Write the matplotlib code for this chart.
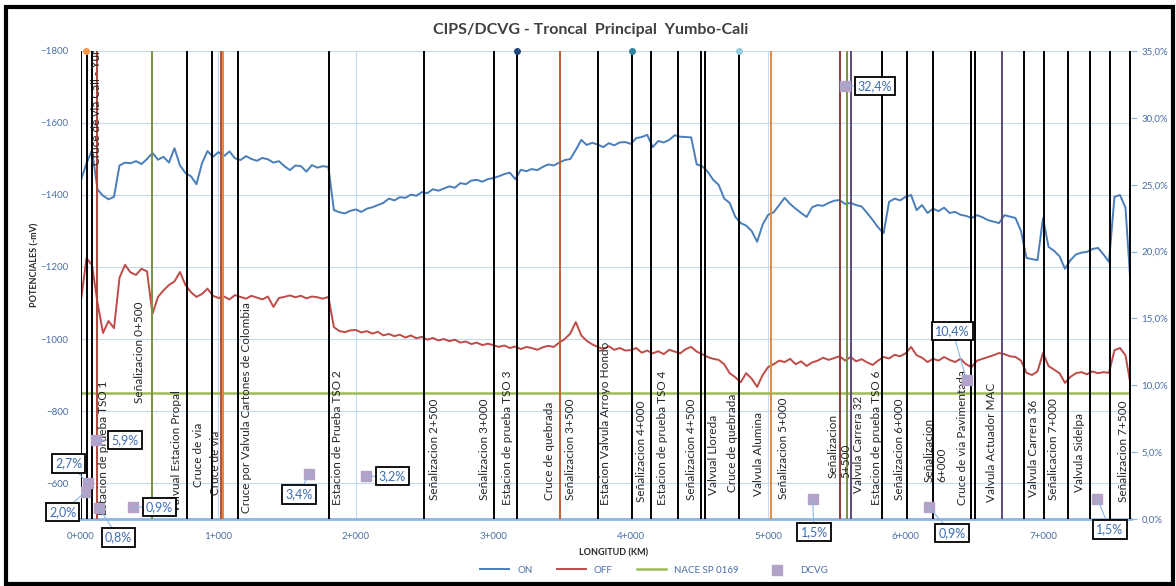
import matplotlib
matplotlib.use('Agg')
import matplotlib.pyplot as plt
import numpy as np
from matplotlib.patches import Rectangle

plt.rcParams['font.family'] = ['Lato', 'DejaVu Sans']

# lecturas CIPS cada 40 m (mV)
paso = 40
on = [-1442, -1488, -1525, -1415, -1398, -1388, -1395, -1482, -1490, -1488,
      -1494, -1486, -1500, -1517, -1498, -1506, -1490, -1530, -1482, -1461,
      -1452, -1430, -1488, -1522, -1506, -1519, -1508, -1521, -1502, -1497,
      -1508, -1500, -1495, -1503, -1499, -1490, -1494, -1480, -1469, -1482,
      -1480, -1465, -1483, -1476, -1480, -1478, -1358, -1352, -1349, -1356,
      -1360, -1353, -1362, -1366, -1372, -1378, -1390, -1385, -1394, -1392,
      -1401, -1398, -1408, -1405, -1416, -1412, -1418, -1424, -1420, -1433,
      -1430, -1440, -1442, -1437, -1444, -1447, -1452, -1458, -1462, -1444,
      -1470, -1466, -1472, -1469, -1478, -1485, -1482, -1490, -1497, -1500,
      -1525, -1553, -1539, -1545, -1540, -1533, -1544, -1538, -1546, -1547,
      -1542, -1558, -1561, -1567, -1533, -1550, -1546, -1553, -1566, -1562,
      -1561, -1560, -1485, -1480, -1465, -1442, -1428, -1390, -1378, -1340,
      -1322, -1315, -1300, -1270, -1318, -1345, -1352, -1372, -1392, -1375,
      -1362, -1350, -1339, -1366, -1372, -1370, -1378, -1384, -1386, -1375,
      -1378, -1372, -1368, -1350, -1331, -1310, -1294, -1381, -1390, -1385,
      -1395, -1400, -1358, -1372, -1350, -1362, -1355, -1365, -1350, -1353,
      -1345, -1342, -1336, -1344, -1338, -1330, -1326, -1322, -1344, -1340,
      -1336, -1300, -1225, -1222, -1219, -1336, -1256, -1245, -1230, -1195,
      -1219, -1235, -1240, -1242, -1250, -1253, -1235, -1214, -1395, -1400,
      -1365, -1136]
off = [-1108, -1225, -1205, -1100, -1017, -1050, -1030, -1170, -1206, -1185,
       -1178, -1195, -1188, -1070, -1117, -1135, -1150, -1160, -1186, -1150,
       -1130, -1117, -1125, -1140, -1120, -1114, -1118, -1110, -1122, -1117,
       -1112, -1120, -1115, -1110, -1118, -1089, -1114, -1117, -1121, -1116,
       -1120, -1113, -1118, -1116, -1112, -1117, -1033, -1022, -1019, -1024,
       -1025, -1018, -1022, -1015, -1020, -1010, -1014, -1008, -1012, -1004,
       -1010, -1002, -1006, -998, -1003, -996, -1000, -994, -998, -990,
       -993, -986, -990, -983, -987, -983, -978, -982, -975, -979,
       -972, -978, -975, -970, -977, -981, -978, -990, -1000, -1015,
       -1047, -1010, -995, -985, -978, -972, -980, -970, -975, -968,
       -969, -975, -962, -968, -960, -966, -958, -970, -965, -960,
       -972, -978, -965, -958, -950, -945, -942, -930, -905, -894,
       -880, -905, -890, -867, -900, -922, -930, -940, -936, -945,
       -930, -938, -925, -935, -940, -948, -942, -947, -952, -940,
       -950, -938, -944, -935, -928, -940, -950, -946, -956, -952,
       -960, -978, -955, -948, -936, -945, -940, -950, -942, -936,
       -945, -930, -922, -940, -945, -950, -955, -961, -958, -952,
       -950, -940, -906, -900, -910, -961, -925, -915, -905, -878,
       -895, -905, -908, -902, -910, -905, -908, -906, -969, -975,
       -955, -867]
nace = -850

# DCVG (% IR)
dcvg_m = [29, 51, 109, 131, 378, 1658, 2073, 5324, 5556, 6167, 6444, 7396]
dcvg_pct = [2.0, 2.7, 5.9, 0.8, 0.9, 3.4, 3.2, 1.5, 32.4, 0.9, 10.4, 1.5]
# desplazamiento de las etiquetas (puntos)
dcvg_off = [(-16, -14), (-14, 14), (21, 0), (14, -21), (19, 0), (-7, -15),
            (19, 0), (1, -24), (22, 0), (17, -19), (-10, 35), (9, -22)]

# marcas verticales (m)
marcas_m = [0, 44, 80, 116, 516, 771, 953, 1018, 1033, 1142, 1804, 2495, 3004,
            3171, 3484, 3760, 4007, 4145, 4342, 4509, 4538, 4785, 5018, 5520,
            5571, 5600, 5825, 6007, 6196, 6473, 6502, 6705, 6865, 7004, 7185,
            7345, 7491, 7636]
marcas_color = ['k', 'k', 'k', '#A9473A', '#77933C', 'k', 'k', '#B0503C', '#E08A3C',
                'k', 'k', 'k', 'k', 'k', '#C0602E', 'k', 'k', 'k', 'k', 'k', 'k',
                'k', '#E08A3C', '#953735', '#77933C', '#5F497A', 'k', 'k', 'k', 'k',
                'k', '#5F497A', 'k', 'k', 'k', 'k', 'k', 'k']
puntos_m = [36, 3171, 4007, 4785]
puntos_color = ['#F79646', '#1F497D', '#31859C', '#93CDDD']

etiquetas = ['Cruce de via Cali - Yumbo', 'Estacion de prueba TSO 1',
             'Señalizacion 0+500', 'Valvual Estacion Propal', 'Cruce de via',
             'Cruce de via', 'Cruce por Valvula Cartones de Colombia',
             'Estacion de Prueba TSO 2', 'Señalizacion 2+500',
             'Señalizacion 3+000', 'Estacion de prueba TSO 3', 'Cruce de quebrada',
             'Señalizacion 3+500', 'Estacion Valvula Arroyo Hondo',
             'Señalizacion 4+000', 'Estacion de prueba TSO 4', 'Señalizacion 4+500',
             'Valvual Lloreda', 'Cruce de quebrada', 'Valvula Alumina',
             'Señalizacion 5+000', 'Señalizacion\n5+500', 'Valvula Carrera 32',
             'Estacion de prueba TSO 6', 'Señalizacion 6+000', 'Señalizacion\n6+000',
             'Cruce de via Pavimentada', 'Valvula Actuador MAC', 'Valvula Carrera 36',
             'Señalicacion 7+000', 'Valvula Sidelpa', 'Señalizacion 7+500']
etiq_m = [116, 167, 429, 698, 858, 982, 1207, 1869, 2575, 2938, 3105, 3411, 3564,
          3818, 4080, 4233, 4444, 4604, 4742, 4931, 5113, 5520, 5658, 5789, 5956,
          6218, 6415, 6625, 6931, 7076, 7265, 7585]
etiq_mv = [-1483, -511, -822, -519, -589, -567, -517, -539, -553, -553, -539, -553,
           -553, -539, -547, -539, -553, -567, -575, -564, -556, -614, -572, -539,
           -553, -603, -539, -547, -561, -553, -575, -547]

dist_on = np.arange(len(on)) * paso
dist_off = np.arange(len(off)) * paso

fig = plt.figure(figsize=(11.76, 5.86), dpi=100)
ax = fig.add_axes([0.0689, 0.1143, 0.8928, 0.7987])
ax2 = ax.twinx()

azul_txt = '#4A6FA5'
ax.set_xlim(0, 7640)
ax.set_ylim(-500, -1800)
ax2.set_ylim(0, 35)

ax.set_yticks(np.arange(-1800, -500, 200))
ax.set_xticks(np.arange(0, 8000, 1000))
ax.set_xticklabels(['%d+000' % k for k in range(8)])
ax.grid(True, color='#C5D9F1', lw=0.8)
ax.set_axisbelow(True)
ax.tick_params(axis='both', length=0, labelsize=7, labelcolor=azul_txt)
ax.tick_params(axis='y', pad=9)
ax.tick_params(axis='x', pad=9)
for s in ['left', 'right', 'top']:
    ax.spines[s].set_visible(False)
    ax2.spines[s].set_visible(False)
ax.spines['bottom'].set_color('#8DB4E2')
ax.spines['bottom'].set_linewidth(2)
ax2.spines['bottom'].set_visible(False)

ax2.set_yticks(np.arange(0, 36, 5))
ax2.set_yticklabels(['%.1f%%' % v for v in np.arange(0, 36, 5)])
ax2.set_yticklabels([t.get_text().replace('.', ',') for t in ax2.get_yticklabels()])
ax2.tick_params(axis='y', length=4, color='#8DB4E2', labelsize=7, labelcolor=azul_txt)

l_on, = ax.plot(dist_on, on, color='#4A7EBB', lw=1.4, label='ON', zorder=3)
l_off, = ax.plot(dist_off, off, color='#BE4B48', lw=1.4, label='OFF', zorder=3)
l_nace = ax.axhline(nace, color='#9BBB59', lw=1.8, label='NACE SP 0169', zorder=3)

for xm, c in zip(marcas_m, marcas_color):
    ax.axvline(xm, color=c, lw=1.4, zorder=4)
for xm, c in zip(puntos_m, puntos_color):
    ax.plot(xm, -1800, 'o', color=c, ms=4, zorder=5, clip_on=False)

for t, xm, ym in zip(etiquetas, etiq_m, etiq_mv):
    ax.text(xm, ym, t, rotation=90, ha='center', va='bottom', multialignment='left',
            fontsize=8.5, color='#262626', zorder=6, clip_on=True)

sc = ax2.scatter(dcvg_m, dcvg_pct, marker='s', s=42, color='#B3A2C7', zorder=7,
                 label='DCVG')
for xm, p, (dx, dy) in zip(dcvg_m, dcvg_pct, dcvg_off):
    ax2.annotate(('%.1f%%' % p).replace('.', ','), (xm, p), xytext=(dx, dy),
                 textcoords='offset points', ha='center', va='center', fontsize=9,
                 color='#3F6DB3', zorder=8, annotation_clip=False,
                 bbox=dict(boxstyle='square,pad=0.25', fc='white', ec='black', lw=1.3),
                 arrowprops=dict(arrowstyle='-', color='#8DB4E2', lw=0.8,
                                 shrinkA=0, shrinkB=0))

fig.text(0.502, 0.949, 'CIPS/DCVG - Troncal  Principal  Yumbo-Cali', ha='center',
         va='center', fontsize=11.5, fontweight='bold', color='#404040')
fig.text(0.030, 0.548, 'POTENCIALES (-mV)', rotation=90, ha='center', va='center',
         fontsize=6.5, fontweight='bold', color='#262626')
fig.text(0.522, 0.056, 'LONGITUD (KM)', ha='center', va='center', fontsize=6.5,
         fontweight='bold', color='#262626')

fig.legend([l_on, l_off, l_nace, sc], ['ON', 'OFF', 'NACE SP 0169', 'DCVG'],
           loc='center', bbox_to_anchor=(0.556, 0.027), ncol=4, frameon=False,
           fontsize=7, labelcolor=azul_txt, handlelength=3, columnspacing=2.5)

fig.add_artist(Rectangle((0.0055, 0.004), 0.992, 0.984, transform=fig.transFigure,
                         fill=False, ec='black', lw=3))

fig.savefig('out.png', dpi=100)
